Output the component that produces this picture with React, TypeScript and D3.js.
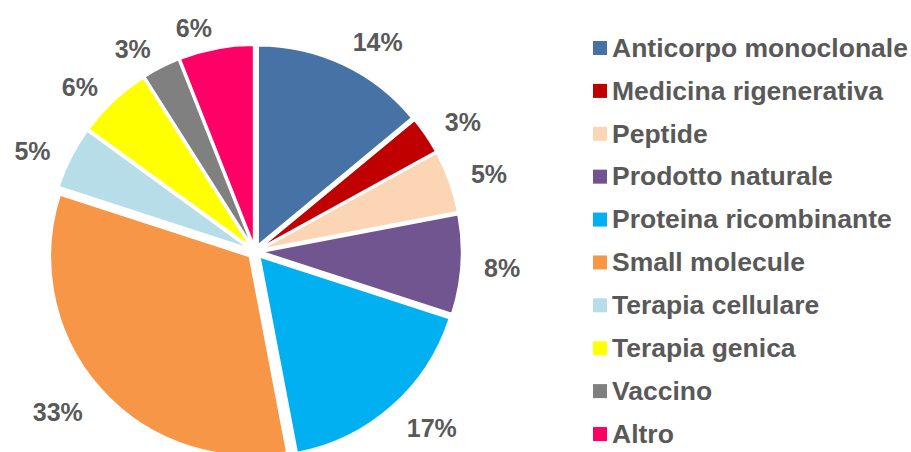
import React from 'react'
import * as d3 from 'd3'

const categories = [
  'Anticorpo monoclonale',
  'Medicina rigenerativa',
  'Peptide',
  'Prodotto naturale',
  'Proteina ricombinante',
  'Small molecule',
  'Terapia cellulare',
  'Terapia genica',
  'Vaccino',
  'Altro',
]
const shares = [14, 3, 5, 8, 17, 33, 5, 6, 3, 6]
const colors = [
  '#4672A6', '#C00000', '#FCD5B5', '#715590', '#00B0F0',
  '#F79646', '#B7DEE8', '#FFFF00', '#808080', '#FF0066',
]

const W = 911
const H = 452
const cx = 255
const cy = 251.5
const R = 199
const explode = 7.5
const labelR = 222
const textColor = '#595959'
const font = '"Liberation Sans", Arial, sans-serif'

export default function App() {
  const rows = categories.map((name, i) => ({ name, value: shares[i], color: colors[i] }))

  const pie = d3.pie<any>().sort(null).value(d => d.value)
  const arc = d3.arc<any>().innerRadius(0).outerRadius(R)
  const arcs = pie(rows)

  // legend rows spread evenly down the right side
  const legendY = d3.scaleLinear().domain([0, categories.length - 1]).range([47.5, 433.5])

  return (
    <svg width={W} height={H} style={{ position: 'absolute', left: 0, top: 0, background: '#fff' }}>
      <g transform={`translate(${cx},${cy})`}>
        {arcs.map((a, i) => {
          const mid = (a.startAngle + a.endAngle) / 2
          const s = Math.sin(mid)
          const c = Math.cos(mid)
          const ox = explode * s
          const oy = -explode * c
          return (
            <g key={i} transform={`translate(${ox},${oy})`}>
              <path d={arc(a) as string} fill={a.data.color} stroke="#fff" strokeWidth={1.5} />
              <text
                x={labelR * s}
                y={-226 * c + (s < 0 ? 6 : 2)}
                dy="0.35em"
                textAnchor={s >= 0 ? 'start' : 'end'}
                fontFamily={font}
                fontWeight="bold"
                fontSize={25}
                fill={textColor}
              >
                {a.data.value}%
              </text>
            </g>
          )
        })}
      </g>
      <g>
        {rows.map((d, i) => (
          <g key={d.name} transform={`translate(593,${legendY(i)})`}>
            <rect x={0} y={-6.5} width={14} height={14} fill={d.color} />
            <text x={19} dy="0.35em" fontFamily={font} fontWeight="bold" fontSize={26.5} fill={textColor}>
              {d.name}
            </text>
          </g>
        ))}
      </g>
    </svg>
  )
}
